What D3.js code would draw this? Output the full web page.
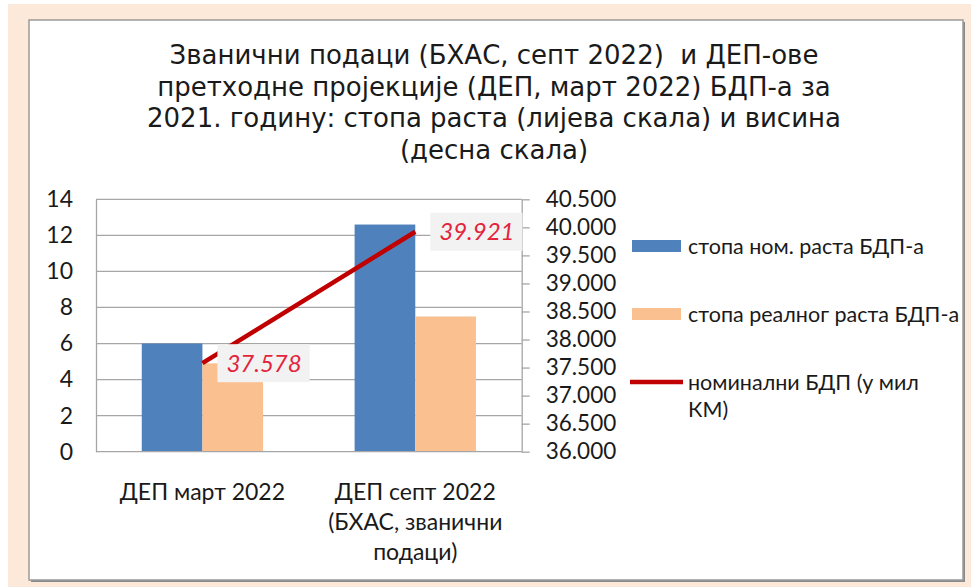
<!DOCTYPE html>
<html>
<head>
<meta charset="utf-8">
<script src="https://cdn.jsdelivr.net/npm/d3@7"></script>
<style>
    html, body { margin: 0; padding: 0; background: #ffffff; }
    svg { display: block; }
    text { white-space: pre; }
</style>
</head>
<body>
<svg id="chart"></svg>
<script>
// Chart data
const categories = [
    ["ДЕП март 2022"],
    ["ДЕП септ 2022", "(БХАС, званични", "подаци)"]
];
const nominalGrowth = [6.0, 12.6];
const realGrowth = [4.9, 7.5];
const nominalGdp = [37578, 39921];
const leftTicks = [0, 2, 4, 6, 8, 10, 12, 14];
const rightTicks = [36000, 36500, 37000, 37500, 38000, 38500, 39000, 39500, 40000, 40500];
const titleLines = [
    "Званични подаци (БХАС, септ 2022)  и ДЕП-ове",
    "претходне пројекције (ДЕП, март 2022) БДП-а за",
    "2021. годину: стопа раста (лијева скала) и висина",
    "(десна скала)"
];
const legendItems = [
    { label: ["стопа ном. раста БДП-а"], type: "bar", color: "#4f81bd" },
    { label: ["стопа реалног раста БДП-а"], type: "bar", color: "#fac090" },
    { label: ["номинални БДП (у мил", "КМ)"], type: "line", color: "#c00000" }
];

let width = 971;
let height = 587;
let font = "Lato";
let svg = d3.select("#chart").attr("width", width).attr("height", height);

// Page background and chart frame
svg.append("rect").attr("x", 8).attr("y", 4).attr("width", width - 8).attr("height", height - 4)
    .attr("fill", "#fde9d9");
svg.append("rect").attr("x", 31).attr("y", 22).attr("width", 934).attr("height", 560)
    .attr("fill", "#8a8a8a");
svg.append("rect").attr("x", 29).attr("y", 20).attr("width", 934).attr("height", 560)
    .attr("fill", "#ffffff").attr("stroke", "#9a9a9a").attr("stroke-width", 1.5);

// Plot area
let plot = { left: 96, right: 521.7, top: 199.3, bottom: 451.7 };

let yLeft = d3.scaleLinear().domain([0, 14]).range([plot.bottom, plot.top]);
let yRight = d3.scaleLinear().domain([36000, 40500]).range([plot.bottom, plot.top]);

let fmt = d3.formatLocale({ decimal: ",", thousands: ".", grouping: [3], currency: ["", ""] }).format(",.0f");

// Gridlines
svg.append("g")
    .selectAll("line")
    .data(leftTicks.slice(1))
    .enter().append("line")
    .attr("x1", plot.left).attr("x2", plot.right)
    .attr("y1", d => yLeft(d)).attr("y2", d => yLeft(d))
    .attr("stroke", "#a6a6a6").attr("stroke-width", 1.3);

// Bars
let groupWidth = (plot.right - plot.left) / categories.length;
let barW = groupWidth * 0.285;
let cx = i => plot.left + groupWidth * (i + 0.5);

svg.append("g").selectAll("rect")
    .data(nominalGrowth)
    .enter().append("rect")
    .attr("x", (d, i) => cx(i) - barW)
    .attr("y", d => yLeft(d))
    .attr("width", barW)
    .attr("height", d => yLeft(0) - yLeft(d))
    .attr("fill", "#4f81bd");

svg.append("g").selectAll("rect")
    .data(realGrowth)
    .enter().append("rect")
    .attr("x", (d, i) => cx(i))
    .attr("y", d => yLeft(d))
    .attr("width", barW)
    .attr("height", d => yLeft(0) - yLeft(d))
    .attr("fill", "#fac090");

// Left axis
let leftAxis = svg.append("g")
    .attr("transform", `translate(${plot.left},0)`)
    .call(d3.axisLeft(yLeft).tickValues(leftTicks).tickSize(0).tickPadding(23));
leftAxis.select(".domain").attr("stroke", "#a6a6a6").attr("stroke-width", 1.3);
leftAxis.selectAll("text")
    .attr("font-family", font).attr("font-size", 23).attr("fill", "#1a1a1a");

// Right axis
let rightAxis = svg.append("g")
    .attr("transform", `translate(${plot.right},0)`)
    .call(d3.axisRight(yRight).tickValues(rightTicks).tickFormat(fmt).tickSize(8).tickSizeOuter(0).tickPadding(16));
rightAxis.select(".domain").attr("stroke", "#a6a6a6").attr("stroke-width", 1.3);
rightAxis.selectAll(".tick line").attr("stroke", "#a6a6a6").attr("stroke-width", 1.3);
rightAxis.selectAll("text")
    .attr("font-family", font).attr("font-size", 22.5).attr("fill", "#1a1a1a");

// Bottom axis line
svg.append("line")
    .attr("x1", plot.left).attr("x2", plot.right)
    .attr("y1", plot.bottom).attr("y2", plot.bottom)
    .attr("stroke", "#a6a6a6").attr("stroke-width", 1.3);

// Category labels
categories.forEach(function (lines, i) {
    let t = svg.append("text")
        .attr("x", cx(i)).attr("y", 500)
        .attr("text-anchor", "middle")
        .attr("font-family", font).attr("font-size", 23).attr("fill", "#1a1a1a");
    lines.forEach(function (line, j) {
        t.append("tspan").attr("x", cx(i)).attr("dy", j === 0 ? 0 : 30).text(line);
    });
});

// Nominal GDP line
let line = d3.line().x((d, i) => cx(i)).y(d => yRight(d));
svg.append("path")
    .datum(nominalGdp)
    .attr("d", line)
    .attr("fill", "none")
    .attr("stroke", "#c00000")
    .attr("stroke-width", 4.5);

// Data labels for the line
nominalGdp.forEach(function (d, i) {
    let px = cx(i), py = yRight(d);
    let g = svg.append("g");
    let box = g.append("rect").attr("fill", "#f2f2f2");
    let t = g.append("text")
        .attr("x", px + 24).attr("y", py + 8.5)
        .attr("font-family", font).attr("font-style", "italic")
        .attr("font-size", 24).attr("fill", "#e3243b")
        .text(fmt(d));
    let bb = t.node().getBBox();
    box.attr("x", px + 15).attr("y", py - 19)
        .attr("width", bb.width + 17).attr("height", 38);
});

// Title
let title = svg.append("text")
    .attr("x", 494).attr("y", 64)
    .attr("text-anchor", "middle")
    .attr("font-family", "DejaVu Sans").attr("font-size", 26).attr("fill", "#1a1a1a");
titleLines.forEach(function (l, j) {
    title.append("tspan").attr("x", 494).attr("dy", j === 0 ? 0 : 31.6).text(l);
});

// Legend
let legendY = [246, 314, 382];
legendItems.forEach(function (item, i) {
    let ly = legendY[i];
    if (item.type === "bar") {
        svg.append("rect").attr("x", 632).attr("y", ly - 6).attr("width", 49).attr("height", 12)
            .attr("fill", item.color);
    } else {
        svg.append("line").attr("x1", 630).attr("x2", 683).attr("y1", ly).attr("y2", ly)
            .attr("stroke", item.color).attr("stroke-width", 4.5);
    }
    let t = svg.append("text")
        .attr("x", 688).attr("y", ly + 7.5)
        .attr("font-family", font).attr("font-size", 21.5).attr("fill", "#1a1a1a");
    item.label.forEach(function (l, j) {
        t.append("tspan").attr("x", 688).attr("dy", j === 0 ? 0 : 27).text(l);
    });
});
</script>
</body>
</html>
